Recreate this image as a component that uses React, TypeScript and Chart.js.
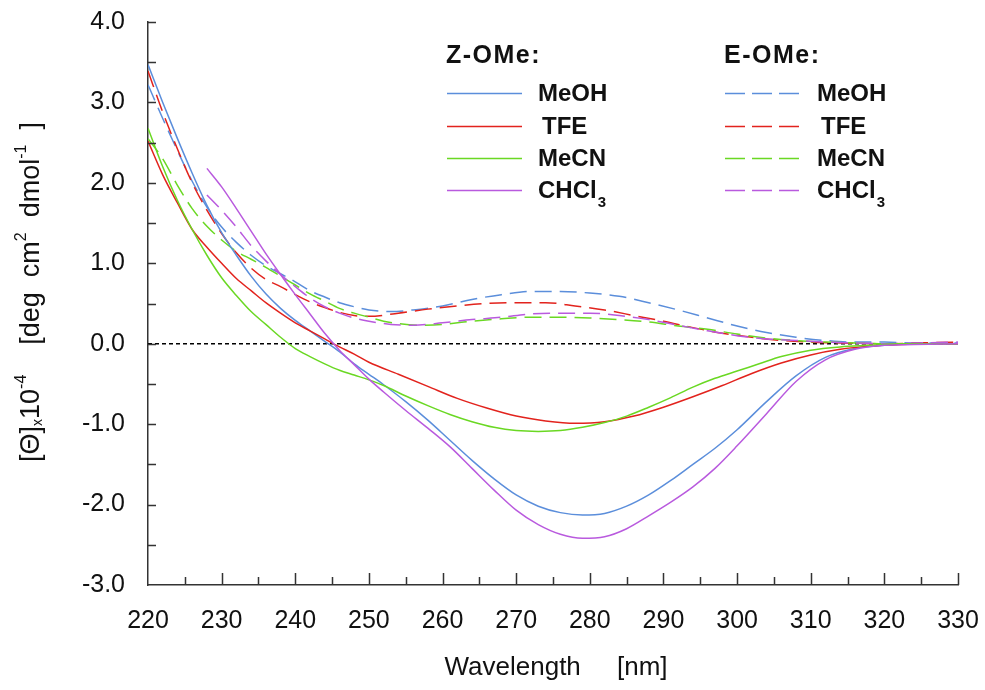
import React, { useEffect, useRef } from "react";
import { Chart, registerables } from "chart.js";

Chart.register(...registerables);

// ---------- data ----------
const solventNames = ["MeOH", "TFE", "MeCN", "CHCl3"];
const solventColors = ["#5b8edb", "#e2231d", "#6ad823", "#b95ade"];
const groupTitles = ["Z-OMe:", "E-OMe:"];
const xTitle = "Wavelength     [nm]";

const zMeOHWl = [220, 222, 224, 226, 228, 230, 232, 234, 236, 238, 240, 242, 244, 246, 248, 250, 252, 255, 258, 261, 264, 267, 270, 273, 276, 279, 282, 285, 288, 291, 294, 297, 300, 304, 308, 312, 316, 320, 324, 330];
const zMeOHVal = [3.47, 3.0, 2.55, 2.12, 1.72, 1.38, 1.1, 0.84, 0.62, 0.44, 0.29, 0.16, 0.03, -0.1, -0.25, -0.38, -0.51, -0.72, -0.95, -1.2, -1.45, -1.68, -1.88, -2.02, -2.1, -2.13, -2.11, -2.02, -1.88, -1.7, -1.5, -1.3, -1.07, -0.72, -0.4, -0.17, -0.06, -0.02, 0, 0];

const zTFEWl = [220, 222, 224, 226, 228, 230, 232, 234, 236, 238, 240, 242, 244, 246, 248, 250, 254, 258, 262, 266, 270, 274, 278, 282, 286, 290, 294, 298, 302, 306, 310, 314, 318, 322, 326, 330];
const zTFEVal = [2.52, 2.1, 1.75, 1.42, 1.2, 1.0, 0.81, 0.66, 0.51, 0.38, 0.26, 0.16, 0.06, -0.04, -0.13, -0.23, -0.38, -0.53, -0.68, -0.8, -0.9, -0.96, -0.99, -0.97, -0.9, -0.79, -0.66, -0.52, -0.37, -0.24, -0.14, -0.07, -0.03, -0.01, 0, 0];

const zMeCNWl = [220, 222, 224, 226, 228, 230, 232, 234, 236, 238, 240, 242, 244, 246, 248, 250, 252, 255, 258, 261, 264, 267, 270, 273, 276, 279, 282, 285, 288, 291, 294, 297, 300, 303, 306, 310, 314, 318, 322, 330];
const zMeCNVal = [2.68, 2.2, 1.78, 1.42, 1.1, 0.82, 0.6, 0.4, 0.24, 0.08, -0.06, -0.16, -0.25, -0.33, -0.39, -0.45, -0.52, -0.65, -0.77, -0.88, -0.97, -1.04, -1.08, -1.09, -1.08, -1.04, -0.98, -0.9, -0.79, -0.67, -0.54, -0.43, -0.34, -0.25, -0.16, -0.08, -0.04, -0.02, 0, 0];

const zCHCl3Wl = [228, 230, 232, 234, 236, 238, 240, 242, 244, 246, 248, 250, 252, 255, 258, 261, 264, 267, 270, 273, 276, 279, 282, 285, 288, 291, 294, 297, 300, 304, 308, 312, 316, 320, 324, 330];
const zCHCl3Val = [2.18, 1.95, 1.68, 1.4, 1.12, 0.86, 0.61, 0.37, 0.13, -0.08, -0.26, -0.44, -0.6, -0.83, -1.05, -1.28, -1.55, -1.82, -2.07, -2.25, -2.37, -2.42, -2.4, -2.3, -2.14, -1.97, -1.78, -1.55, -1.27, -0.87, -0.47, -0.2, -0.07, -0.02, -0.01, 0];

const eMeOHWl = [220, 222, 224, 226, 228, 230, 232, 234, 236, 238, 240, 242, 244, 246, 248, 250, 253, 256, 260, 264, 268, 272, 276, 280, 284, 288, 292, 296, 300, 304, 308, 312, 316, 320, 324, 330];
const eMeOHVal = [3.22, 2.8, 2.4, 2.02, 1.7, 1.45, 1.26, 1.1, 0.97, 0.87, 0.77, 0.66, 0.58, 0.51, 0.46, 0.42, 0.4, 0.42, 0.47, 0.55, 0.61, 0.65, 0.65, 0.63, 0.59, 0.51, 0.42, 0.32, 0.22, 0.14, 0.08, 0.04, 0.02, 0.02, 0.01, 0.01];

const eTFEWl = [220, 222, 224, 226, 228, 230, 232, 234, 236, 238, 240, 242, 244, 246, 248, 250, 254, 258, 262, 266, 270, 274, 278, 282, 286, 290, 294, 298, 302, 306, 310, 314, 320, 325, 330];
const eTFEVal = [3.39, 2.88, 2.42, 2.0, 1.66, 1.37, 1.13, 0.94, 0.8, 0.71, 0.61, 0.52, 0.45, 0.39, 0.35, 0.34, 0.38, 0.43, 0.47, 0.5, 0.51, 0.51, 0.47, 0.42, 0.35, 0.28, 0.2, 0.13, 0.08, 0.04, 0.02, 0.01, 0, 0.01, 0.02];

const eMeCNWl = [220, 222, 224, 226, 228, 230, 232, 234, 236, 238, 240, 242, 244, 246, 248, 250, 252, 254, 257, 260, 264, 268, 272, 276, 280, 284, 288, 292, 296, 300, 304, 308, 312, 316, 320, 330];
const eMeCNVal = [2.55, 2.3, 1.97, 1.68, 1.46, 1.29, 1.15, 1.05, 0.95, 0.84, 0.73, 0.62, 0.53, 0.44, 0.38, 0.33, 0.28, 0.25, 0.23, 0.24, 0.28, 0.31, 0.33, 0.33, 0.32, 0.3, 0.27, 0.22, 0.18, 0.12, 0.07, 0.04, 0.02, 0.01, 0, 0];

const eCHCl3Wl = [228, 230, 232, 234, 236, 238, 240, 242, 244, 246, 248, 250, 253, 256, 260, 264, 268, 272, 276, 280, 284, 288, 292, 296, 300, 304, 308, 312, 316, 320, 325, 330];
const eCHCl3Val = [1.85, 1.66, 1.45, 1.22, 1.03, 0.86, 0.71, 0.57, 0.46, 0.38, 0.32, 0.28, 0.24, 0.23, 0.26, 0.3, 0.33, 0.37, 0.38, 0.38, 0.35, 0.3, 0.23, 0.16, 0.1, 0.06, 0.04, 0.02, 0.01, 0, 0.01, 0.02];

const zeroLineWl = [220, 330];
const zeroLineVal = [0, 0];

const zSeries = [
  [zMeOHWl, zMeOHVal],
  [zTFEWl, zTFEVal],
  [zMeCNWl, zMeCNVal],
  [zCHCl3Wl, zCHCl3Val],
];
const eSeries = [
  [eMeOHWl, eMeOHVal],
  [eTFEWl, eTFEVal],
  [eMeCNWl, eMeCNVal],
  [eCHCl3Wl, eCHCl3Val],
];

const FONT = "'Liberation Sans', Arial, Helvetica, sans-serif";
const DASH = [17, 8];

const toPoints = (wl: number[], val: number[]) => wl.map((w, i) => ({ x: w, y: val[i] }));

// ---------- plugins ----------
const insideTicks = {
  id: "insideTicks",
  afterDraw(chart: any) {
    const { ctx, chartArea, scales } = chart;
    const x = scales.x;
    const y = scales.y;
    ctx.save();
    ctx.strokeStyle = "#333";
    ctx.lineWidth = 1.5;
    ctx.beginPath();
    for (let v = -2.5; v <= 4.001; v += 0.5) {
      const py = Math.round(y.getPixelForValue(v)) + 0.5;
      ctx.moveTo(chartArea.left, py);
      ctx.lineTo(chartArea.left + 8, py);
    }
    for (let v = 225; v <= 330.001; v += 5) {
      const px = Math.round(x.getPixelForValue(v)) + 0.5;
      const len = Math.round(v) % 10 === 0 ? 12 : 8;
      ctx.moveTo(px, chartArea.bottom);
      ctx.lineTo(px, chartArea.bottom - len);
    }
    ctx.stroke();
    ctx.restore();
  },
};

const axisTitles = {
  id: "axisTitles",
  afterDraw(chart: any) {
    const { ctx, chartArea } = chart;
    ctx.save();
    ctx.fillStyle = "#111";
    // x title
    ctx.font = `26px ${FONT}`;
    ctx.textAlign = "center";
    ctx.textBaseline = "alphabetic";
    ctx.fillText(xTitle, (chartArea.left + chartArea.right) / 2 + 3, 675);

    // y title (rotated, with super/subscripts)
    const base = 27;
    const parts = [
      { t: "[Θ]", s: 1, dy: 0 },
      { t: "x", s: 0.5, dy: 0.12 },
      { t: "10", s: 1, dy: 0 },
      { t: "-4", s: 0.58, dy: -0.5 },
      { t: "    ", s: 1, dy: 0 },
      { t: "[deg  cm", s: 1, dy: 0 },
      { t: "2", s: 0.58, dy: -0.5 },
      { t: "  dmol", s: 1, dy: 0 },
      { t: "-1", s: 0.58, dy: -0.5 },
      { t: "  ]", s: 1, dy: 0 },
    ];
    const widths = parts.map((p) => {
      ctx.font = `${Math.round(base * p.s)}px ${FONT}`;
      return ctx.measureText(p.t).width;
    });
    const total = widths.reduce((a, b) => a + b, 0);
    ctx.translate(39, 292);
    ctx.rotate(-Math.PI / 2);
    ctx.textAlign = "left";
    let cx = -total / 2;
    parts.forEach((p, i) => {
      ctx.font = `${Math.round(base * p.s)}px ${FONT}`;
      ctx.fillText(p.t, cx, p.dy * base);
      cx += widths[i];
    });
    ctx.restore();
  },
};

const groupLegend = {
  id: "groupLegend",
  afterDraw(chart: any) {
    const { ctx } = chart;
    const lineX = [447, 725];
    const labelX = [538, 817];
    const lineLen = 75;
    const rowY = [93, 126, 158, 190];
    ctx.save();
    ctx.fillStyle = "#111";
    ctx.textAlign = "left";
    ctx.textBaseline = "alphabetic";
    groupTitles.forEach((g, gi) => {
      ctx.font = `bold 25px ${FONT}`;
      (ctx as any).letterSpacing = "1.5px";
      ctx.fillText(g, lineX[gi] - 1, 63);
      (ctx as any).letterSpacing = "0px";
    });
    chart.data.datasets.forEach((ds: any) => {
      if (ds.group === undefined) return;
      const gi = ds.group;
      const ri = ds.row;
      const yy = rowY[ri] + 0.5;
      ctx.strokeStyle = ds.borderColor;
      ctx.lineWidth = 1.6;
      ctx.setLineDash(gi === 1 ? [20, 7] : []);
      ctx.beginPath();
      ctx.moveTo(lineX[gi], yy);
      ctx.lineTo(lineX[gi] + lineLen, yy);
      ctx.stroke();
      ctx.setLineDash([]);
      const name = solventNames[ri];
      const lx = labelX[gi] + (ri === 1 ? 4 : 0);
      const by = rowY[ri] + 8;
      ctx.font = `bold 24px ${FONT}`;
      if (name === "CHCl3") {
        const main = "CHCl";
        ctx.fillText(main, lx, by);
        const w = ctx.measureText(main).width;
        ctx.font = `bold 15px ${FONT}`;
        ctx.fillText("3", lx + w + 1, by + 9);
      } else {
        ctx.fillText(name, lx, by);
      }
    });
    ctx.restore();
  },
};

export default function App() {
  const canvasRef = useRef<HTMLCanvasElement | null>(null);

  useEffect(() => {
    if (!canvasRef.current) return;
    const datasets: any[] = [];
    datasets.push({
      label: "zero",
      data: toPoints(zeroLineWl, zeroLineVal),
      borderColor: "#000",
      borderWidth: 1.4,
      borderDash: [4, 3],
      pointRadius: 0,
      order: 20,
    });
    eSeries.forEach(([wl, val], i) => {
      datasets.push({
        label: "E-OMe " + solventNames[i],
        data: toPoints(wl, val),
        borderColor: solventColors[i],
        borderWidth: 1.5,
        borderDash: DASH,
        pointRadius: 0,
        cubicInterpolationMode: "monotone",
        group: 1,
        row: i,
        order: 10 - i,
      });
    });
    zSeries.forEach(([wl, val], i) => {
      datasets.push({
        label: "Z-OMe " + solventNames[i],
        data: toPoints(wl, val),
        borderColor: solventColors[i],
        borderWidth: 1.5,
        pointRadius: 0,
        cubicInterpolationMode: "monotone",
        group: 0,
        row: i,
        order: 5 - i,
      });
    });

    const chart = new Chart(canvasRef.current, {
      type: "line",
      data: { datasets },
      options: {
        animation: false,
        responsive: true,
        maintainAspectRatio: false,
        layout: { padding: { left: 0, top: 22, right: 27, bottom: 0 } },
        plugins: {
          legend: { display: false },
          tooltip: { enabled: false },
          title: { display: false },
        },
        scales: {
          x: {
            type: "linear",
            min: 220,
            max: 330,
            grid: { display: false, drawTicks: true, tickLength: 21 },
            border: { display: true, color: "#333", width: 1.5 },
            ticks: {
              stepSize: 10,
              padding: 0,
              color: "#111",
              font: { family: FONT, size: 25 },
              maxRotation: 0,
              autoSkip: false,
            },
            afterFit: (s: any) => {
              s.height = 105;
            },
          },
          y: {
            type: "linear",
            min: -3,
            max: 4,
            grid: { display: false, drawTicks: true, tickLength: 23 },
            border: { display: true, color: "#333", width: 1.5 },
            ticks: {
              stepSize: 1,
              padding: 0,
              color: "#111",
              font: { family: FONT, size: 25 },
              callback: (v: any) => Number(v).toFixed(1),
            },
            afterFit: (s: any) => {
              s.width = 148;
            },
          },
        },
      },
      plugins: [insideTicks, axisTitles, groupLegend],
    });
    return () => chart.destroy();
  }, []);

  return (
    <div style={{ position: "fixed", left: 0, top: 0, width: 985, height: 690, background: "#fff" }}>
      <canvas ref={canvasRef} />
    </div>
  );
}
